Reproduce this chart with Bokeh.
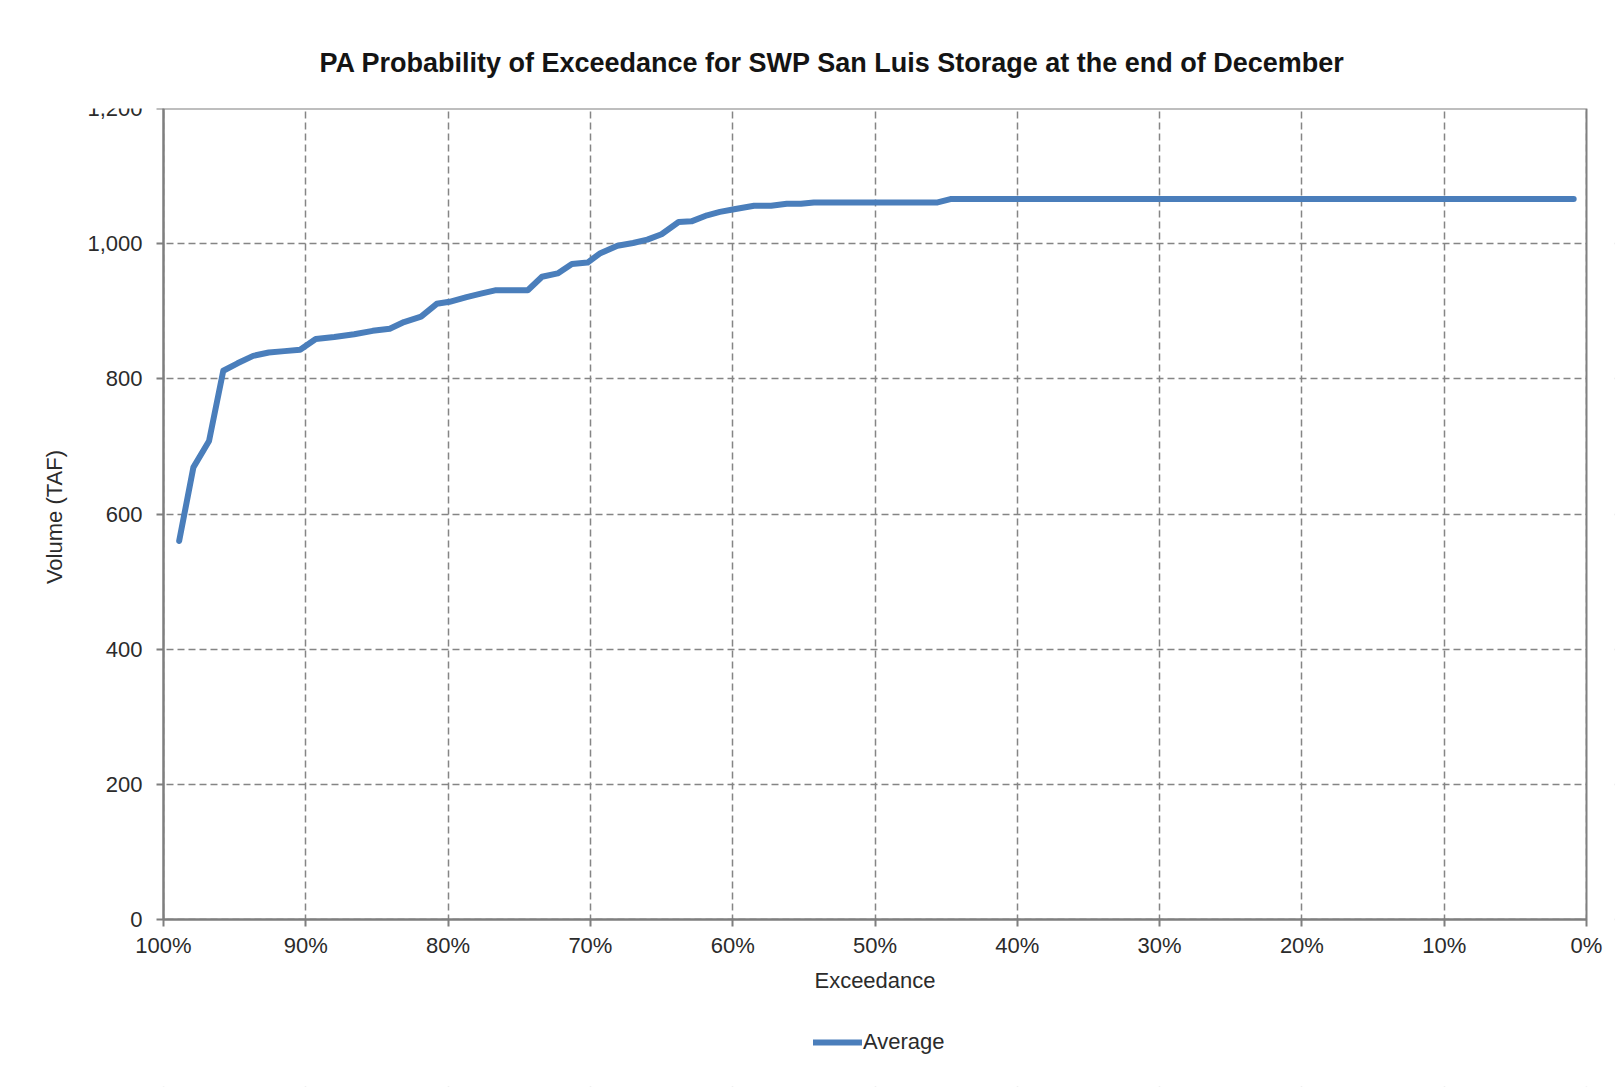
import math
from bokeh.plotting import figure
from bokeh.models import (Range1d, FixedTicker, NumeralTickFormatter, Legend, LegendItem,
                          BoxAnnotation, Label)
from bokeh.embed import file_html
from bokeh.resources import INLINE

# Exceedance probability (%) and end-of-December SWP San Luis storage (TAF)
exceedance = [98.9, 97.9, 96.8, 95.8, 94.8, 93.7, 92.6, 91.5, 90.4, 89.3,
              88.0, 86.6, 85.3, 84.1, 83.1, 81.9, 80.8, 79.9, 78.7, 77.7,
              76.7, 74.4, 73.4, 72.3, 71.3, 70.2, 69.3, 68.1, 67.0, 66.0,
              65.0, 63.8, 62.9, 61.8, 60.9, 59.9, 58.5, 57.3, 56.2, 55.2,
              54.3, 45.6, 44.7, 0.9]
volume = [560, 669, 708, 812, 823, 834, 839, 841, 843, 859,
          862, 866, 871, 874, 884, 892, 911, 914, 921, 926,
          931, 931, 951, 956, 970, 972, 986, 997, 1001, 1006,
          1014, 1032, 1033, 1042, 1047, 1051, 1056, 1056, 1059, 1059,
          1061, 1061, 1066, 1066]
series_name = "Average"
title_text = "PA Probability of Exceedance for SWP San Luis Storage at the end of December"
x_title = "Exceedance"
y_title = "Volume  (TAF)"
x_ticks = [0, 10, 20, 30, 40, 50, 60, 70, 80, 90, 100]
y_ticks = [0, 200, 400, 600, 800, 1000, 1200]

FONT = "Liberation Sans"
GRID = "#858585"
AXIS = "#7f7f7f"
TEXT = "#2b2b2b"

# Layout (pixels). The data area is 1423 x 811 px; the frame is made larger
# so that axes, axis titles and the legend all lie inside it (not clipped).
DATA_W, DATA_H = 1423, 811
LEFT_PAD, RIGHT_PAD = 153, 28      # frame beyond the data area, left / right
FRAME_W = LEFT_PAD + DATA_W + RIGHT_PAD
FRAME_H = 978
x_start = 1.0 + LEFT_PAD / DATA_W
x_end = 0.0 - RIGHT_PAD / DATA_W
y_top = y_ticks[-1]
y_start = -y_top * (FRAME_H - DATA_H) / DATA_H
y_per_px = y_top / DATA_H

p = figure(frame_width=FRAME_W, frame_height=FRAME_H, output_backend="svg",
           toolbar_location=None,
           x_range=Range1d(x_start, x_end), y_range=Range1d(y_start, y_top),
           min_border_left=10, min_border_right=10, min_border_top=108,
           min_border_bottom=4)

x_frac = [e / 100.0 for e in exceedance]
r = p.line(x_frac, volume, line_color="#4a7ebb", line_width=6, line_cap="round",
           line_join="round")

# Title
p.title.text = title_text
p.title.text_font = FONT
p.title.text_font_size = "27px"
p.title.text_font_style = "bold"
p.title.text_color = "#141414"
p.title.align = "left"
p.title.offset = 309
p.title.standoff = 62

# Axes (placed at the edges of the data area)
xa = p.xaxis[0]
xa.ticker = FixedTicker(ticks=[t / 100.0 for t in x_ticks])
xa.formatter = NumeralTickFormatter(format="0%")
xa.fixed_location = y_ticks[0]
xa.bounds = (0.0, 1.0)
ya = p.yaxis[0]
ya.ticker = FixedTicker(ticks=y_ticks)
ya.formatter = NumeralTickFormatter(format="0,0")
ya.fixed_location = 1.0
ya.bounds = (y_ticks[0], y_top)
for ax in (xa, ya):
    ax.axis_line_color = AXIS
    ax.axis_line_width = 2
    ax.major_tick_line_color = AXIS
    ax.major_tick_line_width = 2
    ax.major_tick_out = 7
    ax.major_tick_in = 0
    ax.minor_tick_line_color = None
    ax.major_label_text_font = FONT
    ax.major_label_text_font_size = "22px"
    ax.major_label_text_color = TEXT
xa.major_label_standoff = 6
ya.major_label_standoff = 14

# Axis titles
p.add_layout(Label(x=0.5, y=-61 * y_per_px, text=x_title, text_font=FONT,
                   text_font_size="22px", text_color=TEXT, text_align="center",
                   text_baseline="middle"))
p.add_layout(Label(x=1.0 + 109 / DATA_W, y=y_top / 2, text=y_title, text_font=FONT,
                   text_font_size="22px", text_color=TEXT, text_align="center",
                   text_baseline="middle", angle=math.pi / 2))

# Grid
for g in (p.xgrid[0], p.ygrid[0]):
    g.grid_line_color = GRID
    g.grid_line_dash = "7 4"
    g.grid_line_width = 1.5
p.xgrid[0].ticker = xa.ticker
p.ygrid[0].ticker = ya.ticker

p.outline_line_color = None
p.background_fill_color = "white"
p.border_fill_color = "white"

# white covers outside the data area (hide grid lines there)
far_l, far_r = x_start + 0.2, x_end - 0.2
far_b, far_t = y_start - 200, y_top + 200
for l, rr, b, t in [(far_l, far_r, far_b, y_ticks[0]),
                    (far_l, 1.0, far_b, far_t),
                    (0.0, far_r, far_b, far_t)]:
    p.add_layout(BoxAnnotation(left=l, right=rr, bottom=b, top=t,
                               fill_color="white", fill_alpha=1.0,
                               line_color=None, level="glyph"))
# border of the data area
p.add_layout(BoxAnnotation(left=1.0, right=0.0, bottom=y_ticks[0], top=y_top,
                           fill_alpha=0.0, line_color=AXIS, line_alpha=1.0,
                           line_width=2, level="annotation"))

legend = Legend(items=[LegendItem(label=series_name, renderers=[r])],
                orientation="horizontal", location=(LEFT_PAD + 650, 31))
legend.border_line_color = None
legend.background_fill_alpha = 0
legend.glyph_width = 49
legend.glyph_height = 20
legend.label_standoff = 1
legend.label_text_font = FONT
legend.label_text_font_size = "22px"
legend.label_text_color = TEXT
legend.padding = 0
legend.margin = 0
p.add_layout(legend, "center")

open("out.html", "w").write(file_html(p, INLINE))
